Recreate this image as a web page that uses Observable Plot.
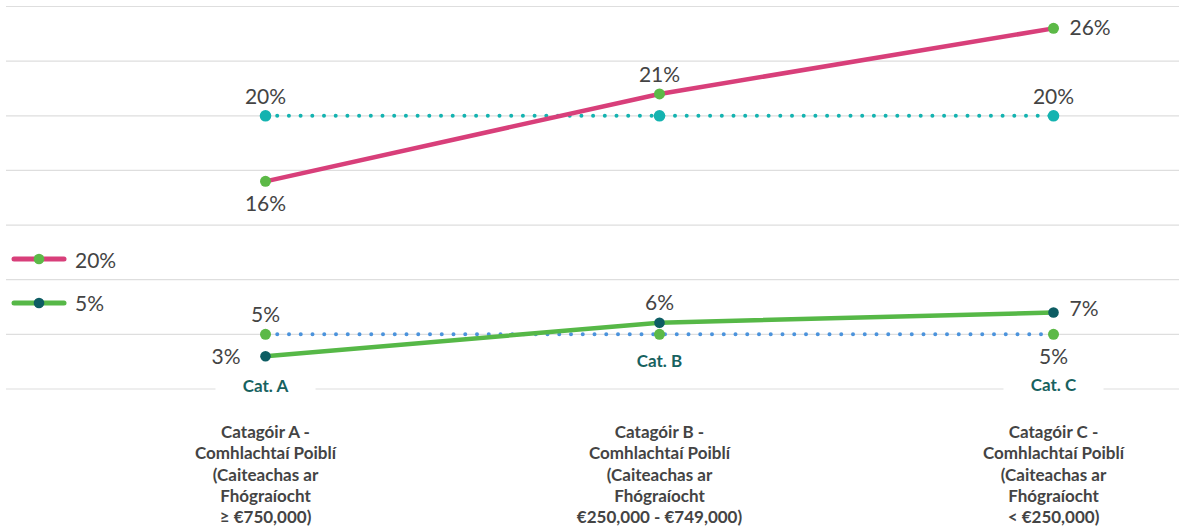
<!DOCTYPE html>
<html>
<head>
<meta charset="utf-8">
<script src="https://cdn.jsdelivr.net/npm/d3@7"></script>
<script src="https://cdn.jsdelivr.net/npm/@observablehq/plot@0.6"></script>
<style>
  html, body { margin: 0; padding: 0; background: #fff; }
  #wrap { position: relative; width: 1179px; height: 529px; font-family: Lato, "Noto Sans", sans-serif; }
  #legend { position: absolute; left: 0; top: 0; }
  .item { position: absolute; left: 0; height: 24px; display: flex; align-items: center; white-space: nowrap; }
  .item span { font-size: 21px; color: #444; margin-left: 8px; }
</style>
</head>
<body>
<div id="wrap"><div id="chart"></div><div id="legend"></div></div>
<script>
// ---- data ----
const categories = ["A", "B", "C"];
const catShort = ["Cat. A", "Cat. B", "Cat. C"];
const catLong = [
  "Catagóir A -\nComhlachtaí Poiblí\n(Caiteachas ar\nFhógraíocht\n≥ €750,000)",
  "Catagóir B -\nComhlachtaí Poiblí\n(Caiteachas ar\nFhógraíocht\n€250,000 - €749,000)",
  "Catagóir C -\nComhlachtaí Poiblí\n(Caiteachas ar\nFhógraíocht\n< €250,000)"
];
const actual20 = [15.5, 21.5, 26.0];
const actual20Labels = ["16%", "21%", "26%"];
const target20 = [20, 20, 20];
const target20Labels = ["20%", "", "20%"];
const actual5 = [3.5, 5.8, 6.5];
const actual5Labels = ["3%", "6%", "7%"];
const target5 = [5, 5, 5];
const target5Labels = ["5%", "", "5%"];
const legendNames = ["20%", "5%"];
const gridTicks = [1.25, 5, 8.75, 12.5, 16.25, 20, 23.75, 27.5];

// ---- styles / placement (not data) ----
const C = {
  pink: "#d83f7a", green: "#56b847", dotGreen: "#5cb947", teal: "#14b3b0",
  darkTeal: "#0d5d63", blue: "#4b93dc", catTeal: "#17625f", text: "#444", grid: "#dedede"
};
const series = [
  {key: "t20", values: target20, labels: target20Labels, place: ["above", null, "above"]},
  {key: "a20", values: actual20, labels: actual20Labels, place: ["below", "above", "right"]},
  {key: "t5", values: target5, labels: target5Labels, place: ["above", null, "below"]},
  {key: "a5", values: actual5, labels: actual5Labels, place: ["left", "above", "rightUp"]}
];
const rows = [];
series.forEach(s => categories.forEach((c, i) => rows.push({series: s.key, cat: c, value: s.values[i], label: s.labels[i], place: s.place[i]})));
const bySeries = k => rows.filter(d => d.series === k);
const byPlace = p => rows.filter(d => d.place === p && d.label);

const catRows = categories.map((c, i) => ({cat: c, label: catShort[i], base: Math.min(actual5[i], target5[i])}));
const catDy = {A: 30, B: 27.5, C: 51};

const labelFont = {fontSize: 21, fill: C.text, fontFamily: "Lato"};
const rectSymbol = {draw(ctx) { ctx.rect(-50, -10, 100, 20); }};

const chart = Plot.plot({
  width: 1179,
  height: 529,
  marginTop: 6,
  marginBottom: 140.5,
  marginLeft: 6,
  marginRight: 0,
  style: {fontFamily: "Lato", overflow: "visible", background: "#fff"},
  x: {type: "point", domain: categories, range: [264, 1053], padding: 0},
  y: {domain: [1.25, 27.5], axis: null},
  marks: [
    Plot.ruleY(gridTicks, {stroke: C.grid, strokeWidth: 1.2}),
    // white label backgrounds breaking the gridline
    ...["A", "C"].map(c => Plot.dot(catRows.filter(d => d.cat === c), {x: "cat", y: "base", dy: catDy[c], symbol: rectSymbol, fill: "#fff", stroke: null})),
    Plot.axisX({tickSize: 0, tickPadding: 34, tickFormat: d => catLong[categories.indexOf(d)], fontSize: 17, fontWeight: "bold", lineHeight: 1.255, fill: C.text, label: null, fontFamily: "Lato"}),
    // target dotted lines
    Plot.line(bySeries("t20"), {x: "cat", y: "value", stroke: C.teal, strokeWidth: 4, strokeDasharray: "0 11.7", strokeLinecap: "round"}),
    Plot.line(bySeries("t5"), {x: "cat", y: "value", stroke: C.blue, strokeWidth: 4, strokeDasharray: "0 11.75", strokeLinecap: "round"}),
    // actual lines
    Plot.line(bySeries("a20"), {x: "cat", y: "value", stroke: C.pink, strokeWidth: 4.5}),
    Plot.line(bySeries("a5"), {x: "cat", y: "value", stroke: C.green, strokeWidth: 4.5}),
    // dots
    Plot.dot(bySeries("t20"), {x: "cat", y: "value", r: 5.8, fill: C.teal}),
    Plot.dot(bySeries("a20"), {x: "cat", y: "value", r: 5.5, fill: C.dotGreen}),
    Plot.dot(bySeries("t5"), {x: "cat", y: "value", r: 5.5, fill: C.dotGreen}),
    Plot.dot(bySeries("a5"), {x: "cat", y: "value", r: 5.3, fill: C.darkTeal}),
    // value labels
    Plot.text(byPlace("above"), {x: "cat", y: "value", text: "label", dy: -19, ...labelFont}),
    Plot.text(byPlace("below"), {x: "cat", y: "value", text: "label", dy: 23, ...labelFont}),
    Plot.text(byPlace("right"), {x: "cat", y: "value", text: "label", dx: 16, textAnchor: "start", ...labelFont}),
    Plot.text(byPlace("rightUp"), {x: "cat", y: "value", text: "label", dx: 16, dy: -3, textAnchor: "start", ...labelFont}),
    Plot.text(byPlace("left"), {x: "cat", y: "value", text: "label", dx: -25, dy: 1, textAnchor: "end", ...labelFont}),
    // category short labels
    ...categories.map(c => Plot.text(catRows.filter(d => d.cat === c), {x: "cat", y: "base", text: "label", dy: catDy[c], fontSize: 17, fontWeight: "bold", fill: C.catTeal, fontFamily: "Lato"}))
  ]
});
document.getElementById("chart").appendChild(chart);

// ---- legend ----
const legendStyles = [
  {line: C.pink, dot: C.dotGreen, top: 247},
  {line: C.green, dot: C.darkTeal, top: 290.5}
];
const legend = document.getElementById("legend");
legendNames.forEach((name, i) => {
  const s = legendStyles[i];
  const div = document.createElement("div");
  div.className = "item";
  div.style.top = s.top + "px";
  div.innerHTML = `<svg width="67" height="24" style="display:block"><line x1="14" x2="64" y1="12" y2="12" stroke="${s.line}" stroke-width="5" stroke-linecap="round"/><circle cx="39" cy="12" r="5.3" fill="${s.dot}"/></svg><span>${name}</span>`;
  legend.appendChild(div);
});
</script>
</body>
</html>
